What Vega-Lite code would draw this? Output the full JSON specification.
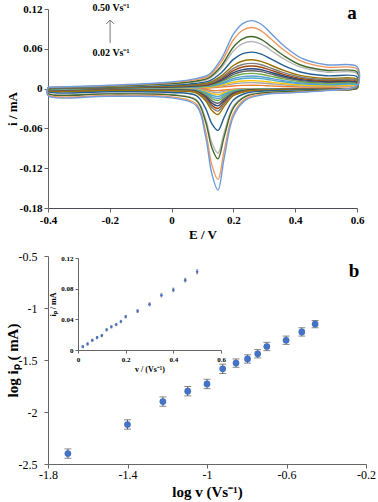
{
  "$schema": "https://vega.github.io/schema/vega-lite/v6.json",
  "padding": {"left": 5, "top": 3, "right": 4, "bottom": 2},
  "spacing": 48,
  "bounds": "flush",
  "config": {
    "view": {"stroke": null},
    "font": "Liberation Serif",
    "locale": {"number": {"decimal": ".", "thousands": ",", "grouping": [3], "currency": ["$", ""], "minus": "-"}},
    "axis": {"grid": false, "domainColor": "#666", "tickColor": "#666", "labelColor": "#000", "titleColor": "#000", "labelFont": "Liberation Serif", "titleFont": "Liberation Serif", "tickSize": 4, "labelPadding": 2, "labelOverlap": false, "labelFlush": false}
  },
  "vconcat": [
    {
      "width": 309,
      "height": 199,
      "encoding": {
        "x": {"field": "x", "type": "quantitative", "scale": {"domain": [-0.4, 0.6], "nice": false, "zero": false},
              "axis": {"values": [-0.4,-0.2,0,0.2,0.4,0.6], "labelExpr": "datum.value == 0 ? '0' : format(datum.value, '.1f')", "labelOverlap": false, "labelFlush": false, "title": "E / V", "domainColor": "#4a4a5a", "labelFontWeight": "bold", "labelFontSize": 11, "titleFontSize": 13, "titleFontWeight": "bold", "titlePadding": 3}},
        "y": {"field": "i", "type": "quantitative", "scale": {"domain": [-0.18, 0.12], "nice": false, "zero": false},
              "axis": {"values": [-0.18,-0.12,-0.06,0,0.06,0.12], "labelExpr": "datum.value == 0 ? '0' : format(datum.value, '.2f')", "labelOverlap": false, "labelFlush": false, "title": "i / mA", "labelFontWeight": "bold", "labelFontSize": 11, "titleFontSize": 13, "titleFontWeight": "bold", "titlePadding": 0}}
      },
      "layer": [
        {
          "data": {"values": [
            {"o":1,"x":-0.4,"v50":0.002,"v45":0.0018,"v40":0.0015,"v35":0.0014,"v30":0.0011,"v25":0.0008,"v20":0.0007,"v18":0.0007,"v16":0.0006,"v14":0.0005,"v12":0.0004,"v10":0.0004,"v08":0.0003,"v06":0.0002,"v04":0.0002,"v02":0.0001},
            {"o":2,"x":-0.2,"v50":0.005,"v45":0.0045,"v40":0.0038,"v35":0.0035,"v30":0.0027,"v25":0.0021,"v20":0.0019,"v18":0.0017,"v16":0.0015,"v14":0.0013,"v12":0.0011,"v10":0.0009,"v08":0.0008,"v06":0.0006,"v04":0.0004,"v02":0.0002},
            {"o":3,"x":0,"v50":0.010,"v45":0.0090,"v40":0.0077,"v35":0.0069,"v30":0.0054,"v25":0.0042,"v20":0.0037,"v18":0.0033,"v16":0.0029,"v14":0.0026,"v12":0.0022,"v10":0.0019,"v08":0.0016,"v06":0.0012,"v04":0.0009,"v02":0.0005},
            {"o":4,"x":0.08,"v50":0.015,"v45":0.0135,"v40":0.0115,"v35":0.0104,"v30":0.0081,"v25":0.0064,"v20":0.0056,"v18":0.0050,"v16":0.0044,"v14":0.0039,"v12":0.0034,"v10":0.0028,"v08":0.0023,"v06":0.0018,"v04":0.0013,"v02":0.0007},
            {"o":5,"x":0.12,"v50":0.021,"v45":0.0189,"v40":0.0161,"v35":0.0146,"v30":0.0113,"v25":0.0089,"v20":0.0078,"v18":0.0070,"v16":0.0062,"v14":0.0055,"v12":0.0047,"v10":0.0039,"v08":0.0033,"v06":0.0025,"v04":0.0018,"v02":0.0010},
            {"o":6,"x":0.16,"v50":0.044,"v45":0.0395,"v40":0.0337,"v35":0.0305,"v30":0.0236,"v25":0.0187,"v20":0.0163,"v18":0.0146,"v16":0.0129,"v14":0.0116,"v12":0.0099,"v10":0.0081,"v08":0.0069,"v06":0.0051,"v04":0.0039,"v02":0.0022},
            {"o":7,"x":0.2,"v50":0.082,"v45":0.0736,"v40":0.0628,"v35":0.0568,"v30":0.0440,"v25":0.0348,"v20":0.0304,"v18":0.0272,"v16":0.0240,"v14":0.0216,"v12":0.0184,"v10":0.0152,"v08":0.0128,"v06":0.0096,"v04":0.0072,"v02":0.0040},
            {"o":8,"x":0.23,"v50":0.098,"v45":0.0880,"v40":0.0751,"v35":0.0679,"v30":0.0526,"v25":0.0416,"v20":0.0364,"v18":0.0325,"v16":0.0287,"v14":0.0258,"v12":0.0220,"v10":0.0181,"v08":0.0153,"v06":0.0115,"v04":0.0086,"v02":0.0048},
            {"o":9,"x":0.26,"v50":0.1025,"v45":0.0920,"v40":0.0785,"v35":0.0710,"v30":0.0550,"v25":0.0435,"v20":0.0380,"v18":0.0340,"v16":0.0300,"v14":0.0270,"v12":0.0230,"v10":0.0190,"v08":0.0160,"v06":0.0120,"v04":0.0090,"v02":0.0050},
            {"o":10,"x":0.29,"v50":0.097,"v45":0.0871,"v40":0.0743,"v35":0.0672,"v30":0.0521,"v25":0.0411,"v20":0.0360,"v18":0.0322,"v16":0.0284,"v14":0.0255,"v12":0.0217,"v10":0.0179,"v08":0.0151,"v06":0.0113,"v04":0.0085,"v02":0.0048},
            {"o":11,"x":0.32,"v50":0.084,"v45":0.0754,"v40":0.0643,"v35":0.0582,"v30":0.0451,"v25":0.0356,"v20":0.0312,"v18":0.0279,"v16":0.0246,"v14":0.0221,"v12":0.0188,"v10":0.0155,"v08":0.0131,"v06":0.0098,"v04":0.0074,"v02":0.0041},
            {"o":12,"x":0.36,"v50":0.066,"v45":0.0593,"v40":0.0506,"v35":0.0457,"v30":0.0354,"v25":0.0280,"v20":0.0245,"v18":0.0219,"v16":0.0193,"v14":0.0174,"v12":0.0148,"v10":0.0122,"v08":0.0103,"v06":0.0077,"v04":0.0058,"v02":0.0032},
            {"o":13,"x":0.42,"v50":0.046,"v45":0.0413,"v40":0.0352,"v35":0.0319,"v30":0.0247,"v25":0.0195,"v20":0.0171,"v18":0.0153,"v16":0.0135,"v14":0.0121,"v12":0.0103,"v10":0.0085,"v08":0.0072,"v06":0.0054,"v04":0.0040,"v02":0.0023},
            {"o":14,"x":0.5,"v50":0.036,"v45":0.0323,"v40":0.0276,"v35":0.0249,"v30":0.0193,"v25":0.0153,"v20":0.0134,"v18":0.0120,"v16":0.0105,"v14":0.0095,"v12":0.0081,"v10":0.0067,"v08":0.0056,"v06":0.0042,"v04":0.0032,"v02":0.0018},
            {"o":15,"x":0.6,"v50":0.033,"v45":0.0296,"v40":0.0253,"v35":0.0229,"v30":0.0177,"v25":0.0140,"v20":0.0122,"v18":0.0110,"v16":0.0097,"v14":0.0087,"v12":0.0074,"v10":0.0061,"v08":0.0051,"v06":0.0039,"v04":0.0029,"v02":0.0016},
            {"o":16,"x":0.6,"v50":0.005,"v45":0.0045,"v40":0.0035,"v35":0.0032,"v30":0.0021,"v25":0.0013,"v20":0.0011,"v18":0.0010,"v16":0.0009,"v14":0.0007,"v12":0.0006,"v10":0.0005,"v08":0.0004,"v06":0.0003,"v04":0.0002,"v02":0.0001},
            {"o":17,"x":0.5,"v50":-0.003,"v45":-0.0027,"v40":-0.0021,"v35":-0.0019,"v30":-0.0012,"v25":-0.0008,"v20":-0.0007,"v18":-0.0006,"v16":-0.0005,"v14":-0.0004,"v12":-0.0004,"v10":-0.0003,"v08":-0.0002,"v06":-0.0002,"v04":-0.0001,"v02":-0.0001},
            {"o":18,"x":0.4,"v50":-0.006,"v45":-0.0054,"v40":-0.0042,"v35":-0.0038,"v30":-0.0025,"v25":-0.0015,"v20":-0.0013,"v18":-0.0012,"v16":-0.0010,"v14":-0.0009,"v12":-0.0007,"v10":-0.0006,"v08":-0.0005,"v06":-0.0004,"v04":-0.0002,"v02":-0.0001},
            {"o":19,"x":0.3,"v50":-0.009,"v45":-0.0081,"v40":-0.0062,"v35":-0.0057,"v30":-0.0037,"v25":-0.0023,"v20":-0.0020,"v18":-0.0018,"v16":-0.0015,"v14":-0.0013,"v12":-0.0011,"v10":-0.0009,"v08":-0.0007,"v06":-0.0005,"v04":-0.0004,"v02":-0.0002},
            {"o":20,"x":0.24,"v50":-0.017,"v45":-0.0152,"v40":-0.0118,"v35":-0.0108,"v30":-0.0070,"v25":-0.0043,"v20":-0.0038,"v18":-0.0033,"v16":-0.0029,"v14":-0.0024,"v12":-0.0020,"v10":-0.0017,"v08":-0.0013,"v06":-0.0010,"v04":-0.0007,"v02":-0.0003},
            {"o":21,"x":0.2,"v50":-0.042,"v45":-0.0376,"v40":-0.0291,"v35":-0.0266,"v30":-0.0173,"v25":-0.0107,"v20":-0.0093,"v18":-0.0082,"v16":-0.0071,"v14":-0.0060,"v12":-0.0050,"v10":-0.0041,"v08":-0.0033,"v06":-0.0025,"v04":-0.0016,"v02":-0.0008},
            {"o":22,"x":0.17,"v50":-0.105,"v45":-0.0940,"v40":-0.0728,"v35":-0.0666,"v30":-0.0433,"v25":-0.0268,"v20":-0.0233,"v18":-0.0206,"v16":-0.0179,"v14":-0.0151,"v12":-0.0124,"v10":-0.0103,"v08":-0.0082,"v06":-0.0062,"v04":-0.0041,"v02":-0.0021},
            {"o":23,"x":0.15,"v50":-0.153,"v45":-0.1369,"v40":-0.1060,"v35":-0.0970,"v30":-0.0630,"v25":-0.0390,"v20":-0.0340,"v18":-0.0300,"v16":-0.0260,"v14":-0.0220,"v12":-0.0180,"v10":-0.0150,"v08":-0.0120,"v06":-0.0090,"v04":-0.0060,"v02":-0.0031},
            {"o":24,"x":0.13,"v50":-0.128,"v45":-0.1146,"v40":-0.0887,"v35":-0.0812,"v30":-0.0527,"v25":-0.0326,"v20":-0.0284,"v18":-0.0251,"v16":-0.0218,"v14":-0.0184,"v12":-0.0151,"v10":-0.0125,"v08":-0.0100,"v06":-0.0076,"v04":-0.0050,"v02":-0.0026},
            {"o":25,"x":0.11,"v50":-0.072,"v45":-0.0644,"v40":-0.0499,"v35":-0.0456,"v30":-0.0297,"v25":-0.0184,"v20":-0.0160,"v18":-0.0141,"v16":-0.0122,"v14":-0.0104,"v12":-0.0085,"v10":-0.0071,"v08":-0.0056,"v06":-0.0042,"v04":-0.0028,"v02":-0.0014},
            {"o":26,"x":0.08,"v50":-0.026,"v45":-0.0233,"v40":-0.0180,"v35":-0.0165,"v30":-0.0107,"v25":-0.0066,"v20":-0.0058,"v18":-0.0051,"v16":-0.0044,"v14":-0.0037,"v12":-0.0031,"v10":-0.0025,"v08":-0.0020,"v06":-0.0015,"v04":-0.0010,"v02":-0.0005},
            {"o":27,"x":0,"v50":-0.014,"v45":-0.0125,"v40":-0.0097,"v35":-0.0089,"v30":-0.0058,"v25":-0.0036,"v20":-0.0031,"v18":-0.0027,"v16":-0.0024,"v14":-0.0020,"v12":-0.0017,"v10":-0.0014,"v08":-0.0011,"v06":-0.0008,"v04":-0.0005,"v02":-0.0003},
            {"o":28,"x":-0.2,"v50":-0.0115,"v45":-0.0103,"v40":-0.0080,"v35":-0.0073,"v30":-0.0047,"v25":-0.0029,"v20":-0.0026,"v18":-0.0023,"v16":-0.0020,"v14":-0.0017,"v12":-0.0014,"v10":-0.0011,"v08":-0.0009,"v06":-0.0007,"v04":-0.0004,"v02":-0.0002},
            {"o":29,"x":-0.4,"v50":-0.0105,"v45":-0.0094,"v40":-0.0073,"v35":-0.0067,"v30":-0.0043,"v25":-0.0027,"v20":-0.0023,"v18":-0.0021,"v16":-0.0018,"v14":-0.0015,"v12":-0.0012,"v10":-0.0010,"v08":-0.0008,"v06":-0.0006,"v04":-0.0004,"v02":-0.0002},
            {"o":30,"x":-0.4,"v50":0.002,"v45":0.0018,"v40":0.0015,"v35":0.0014,"v30":0.0011,"v25":0.0008,"v20":0.0007,"v18":0.0007,"v16":0.0006,"v14":0.0005,"v12":0.0004,"v10":0.0004,"v08":0.0003,"v06":0.0002,"v04":0.0002,"v02":0.0001}
          ]},
          "transform": [{"fold": ["v02","v04","v06","v08","v10","v12","v14","v16","v18","v20","v25","v30","v35","v40","v45","v50"], "as": ["rate", "i"]}],
          "mark": {"type": "line", "interpolate": "catmull-rom", "strokeWidth": 1.4},
          "encoding": {
            "color": {"field": "rate", "type": "nominal", "legend": null,
                      "scale": {"domain": ["v02","v04","v06","v08","v10","v12","v14","v16","v18","v20","v25","v30","v35","v40","v45","v50"],
                                "range": ["#ED7D31","#A5A5A5","#FFC000","#4BACC6","#5B9BD5","#70AD47","#636363","#264478","#9E480E","#7F7F7F","#997300","#255E91","#B7B7B7","#43682B","#F1975A","#6F9BDB"]}},
            "order": {"field": "o", "type": "quantitative"}
          }
        },
        {
          "data": {"values": [{"x": -0.199, "i": 0.0687, "i2": 0.1034}]},
          "mark": {"type": "rule", "color": "#777", "strokeWidth": 1},
          "encoding": {"y2": {"field": "i2"}}
        },
        {
          "data": {"values": [{"x": -0.199, "i": 0.1034}]},
          "mark": {"type": "point", "shape": "M-1,1L0,0L1,1", "filled": false, "stroke": "#777", "strokeWidth": 1, "size": 60, "opacity": 1},
          "encoding": {}
        },
        {
          "data": {"values": [{"x": -0.196, "i": 0.1215, "t": "0.50 Vs⁻¹"}, {"x": -0.196, "i": 0.0537, "t": "0.02 Vs⁻¹"}]},
          "mark": {"type": "text", "font": "Liberation Serif", "fontWeight": "bold", "fontSize": 10, "align": "center", "baseline": "middle"},
          "encoding": {"text": {"field": "t"}}
        },
        {
          "data": {"values": [{"x": 0.584, "i": 0.114, "t": "a"}]},
          "mark": {"type": "text", "font": "Liberation Serif", "fontWeight": "bold", "fontSize": 19, "align": "center", "baseline": "middle"},
          "encoding": {"text": {"field": "t"}}
        }
      ]
    },
    {
      "width": 318,
      "height": 208,
      "layer": [
        {
          "data": {"values": [
            {"lv": -1.70, "li": -2.40, "lo": -2.445, "hi": -2.355},
            {"lv": -1.40, "li": -2.12, "lo": -2.165, "hi": -2.075},
            {"lv": -1.222, "li": -1.90, "lo": -1.945, "hi": -1.855},
            {"lv": -1.097, "li": -1.80, "lo": -1.845, "hi": -1.755},
            {"lv": -1.00, "li": -1.73, "lo": -1.775, "hi": -1.685},
            {"lv": -0.921, "li": -1.585, "lo": -1.63, "hi": -1.54},
            {"lv": -0.854, "li": -1.53, "lo": -1.57, "hi": -1.49},
            {"lv": -0.796, "li": -1.49, "lo": -1.53, "hi": -1.45},
            {"lv": -0.745, "li": -1.44, "lo": -1.48, "hi": -1.40},
            {"lv": -0.699, "li": -1.37, "lo": -1.41, "hi": -1.33},
            {"lv": -0.602, "li": -1.31, "lo": -1.35, "hi": -1.27},
            {"lv": -0.523, "li": -1.23, "lo": -1.27, "hi": -1.19},
            {"lv": -0.456, "li": -1.155, "lo": -1.19, "hi": -1.12}
          ]},
          "layer": [
            {
              "mark": {"type": "errorbar", "ticks": {"size": 7, "color": "#595959"}, "rule": {"color": "#595959"}},
              "encoding": {
                "x": {"field": "lv", "type": "quantitative", "scale": {"domain": [-1.8, -0.2], "nice": false, "zero": false},
                      "axis": {"values": [-1.8,-1.4,-1,-0.6,-0.2], "labelExpr": "format(datum.value, '~g')", "labelOverlap": false, "labelFlush": false, "title": "log v (Vs⁻¹)", "labelFontSize": 12, "labelPadding": 1, "titleFontSize": 15, "titleFontWeight": "bold", "titlePadding": 4}},
                "y": {"field": "lo", "type": "quantitative", "scale": {"domain": [-2.5, -0.5], "nice": false, "zero": false},
                      "axis": {"values": [-2.5,-2,-1.5,-1,-0.5], "labelExpr": "format(datum.value, '~g')", "labelOverlap": false, "labelFlush": false, "title": "log iₚ ( mA)", "labelFontSize": 12, "labelPadding": 7, "titleFontSize": 15, "titleFontWeight": "bold", "titlePadding": -2}},
                "y2": {"field": "hi"}
              }
            },
            {
              "mark": {"type": "point", "filled": true, "color": "#4472C4", "size": 45, "opacity": 1},
              "encoding": {"x": {"field": "lv", "type": "quantitative"}, "y": {"field": "li", "type": "quantitative"}}
            },
            {
              "data": {"values": [{"lv": -0.26, "li": -0.644, "t": "b"}]},
              "mark": {"type": "text", "font": "Liberation Serif", "fontWeight": "bold", "fontSize": 19, "align": "center", "baseline": "middle"},
              "encoding": {"x": {"field": "lv", "type": "quantitative"}, "y": {"field": "li", "type": "quantitative"}, "text": {"field": "t"}}
            }
          ]
        },
        {
          "data": {"values": [
            {"v": 0.02, "ip": 0.0044, "lo": 0.0029, "hi": 0.0059}, {"v": 0.04, "ip": 0.0079, "lo": 0.0064, "hi": 0.0094},
            {"v": 0.06, "ip": 0.0127, "lo": 0.0112, "hi": 0.0142}, {"v": 0.08, "ip": 0.0162, "lo": 0.0147, "hi": 0.0177},
            {"v": 0.10, "ip": 0.0188, "lo": 0.0173, "hi": 0.0203}, {"v": 0.12, "ip": 0.0263, "lo": 0.0248, "hi": 0.0278},
            {"v": 0.14, "ip": 0.0302, "lo": 0.0287, "hi": 0.0317}, {"v": 0.16, "ip": 0.0333, "lo": 0.0318, "hi": 0.0348},
            {"v": 0.18, "ip": 0.0372, "lo": 0.0357, "hi": 0.0387}, {"v": 0.20, "ip": 0.0434, "lo": 0.0418, "hi": 0.0450},
            {"v": 0.25, "ip": 0.0508, "lo": 0.0490, "hi": 0.0526}, {"v": 0.30, "ip": 0.0596, "lo": 0.0576, "hi": 0.0616},
            {"v": 0.35, "ip": 0.0714, "lo": 0.0692, "hi": 0.0736}, {"v": 0.40, "ip": 0.0784, "lo": 0.0760, "hi": 0.0808},
            {"v": 0.45, "ip": 0.0911, "lo": 0.0886, "hi": 0.0936}, {"v": 0.50, "ip": 0.1020, "lo": 0.0993, "hi": 0.1047}
          ]},
          "layer": [
            {
              "mark": {"type": "errorbar", "ticks": {"size": 2, "color": "#777"}, "rule": {"color": "#777", "strokeWidth": 0.8}},
              "encoding": {
                "x": {"field": "v", "type": "quantitative", "scale": {"domain": [0, 0.6], "nice": false, "range": [30, 173]},
                      "axis": {"orient": "bottom", "offset": -114, "values": [0, 0.2, 0.4, 0.6], "labelExpr": "datum.value == 0 ? '0' : format(datum.value, '.1f')", "labelOverlap": false, "labelFlush": false, "title": "v / (Vs⁻¹)", "labelFontSize": 7, "labelFontWeight": "bold", "titleFontSize": 8, "titleFontWeight": "bold", "tickSize": 3, "titlePadding": 3}},
                "y": {"field": "lo", "type": "quantitative", "scale": {"domain": [0, 0.12], "nice": false, "range": [94, 2]},
                      "axis": {"orient": "left", "offset": -30, "values": [0, 0.04, 0.08, 0.12], "labelExpr": "datum.value == 0 ? '0' : format(datum.value, '.2f')", "labelOverlap": false, "labelFlush": false, "title": "iₚ / mA", "labelFontSize": 7, "labelFontWeight": "bold", "titleFontSize": 8, "titleFontWeight": "bold", "tickSize": 3, "titlePadding": 3}},
                "y2": {"field": "hi"}
              }
            },
            {
              "mark": {"type": "point", "filled": true, "color": "#4472C4", "size": 7, "opacity": 1},
              "encoding": {"x": {"field": "v", "type": "quantitative"}, "y": {"field": "ip", "type": "quantitative"}}
            }
          ]
        }
      ],
      "resolve": {"scale": {"x": "independent", "y": "independent"}, "axis": {"x": "independent", "y": "independent"}}
    }
  ]
}
